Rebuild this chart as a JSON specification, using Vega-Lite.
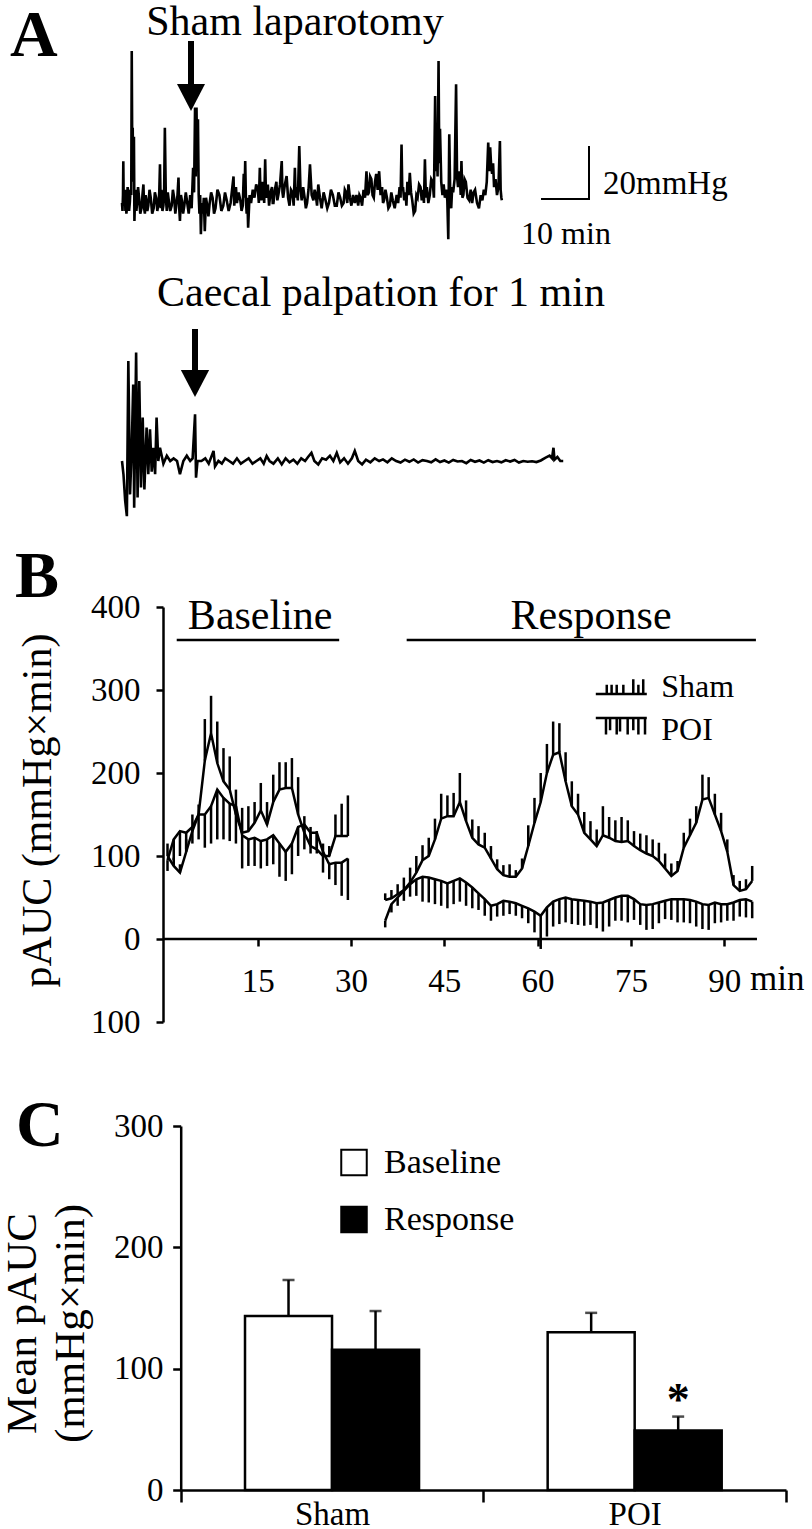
{
"$schema": "https://vega.github.io/schema/vega-lite/v6.json",
"padding": 0,
"autosize": {"type": "pad"},
"bounds": "flush",
"spacing": 104,
"background": "white",
"config": {
  "font": "Liberation Serif",
  "view": {"stroke": null},
  "axis": {"domainColor": "black", "tickColor": "black", "labelColor": "black", "titleColor": "black", "domainWidth": 2.5, "tickWidth": 2.5, "grid": false, "labelFont": "Liberation Serif", "titleFont": "Liberation Serif", "titleFontWeight": "normal"},
  "legend": {"labelFont": "Liberation Serif", "labelColor": "black"}
},
"datasets": {
  "top": [
    {"t":0,"p":0},{"t":0.1,"p":-3},{"t":0.2,"p":3},{"t":0.27,"p":15.8},{"t":0.35,"p":-1},{"t":0.45,"p":4},{"t":0.6,"p":5},{"t":0.7,"p":-3},{"t":0.8,"p":2},{"t":0.9,"p":-4},{"t":1.0,"p":-2},{"t":1.15,"p":6},{"t":1.3,"p":4},{"t":1.45,"p":-3},{"t":1.6,"p":0},{"t":1.75,"p":5},{"t":1.9,"p":3},{"t":2.0,"p":57.4},{"t":2.1,"p":20},{"t":2.2,"p":28.4},{"t":2.3,"p":8},{"t":2.45,"p":25},{"t":2.55,"p":-6.8},{"t":2.7,"p":4},{"t":2.8,"p":5},{"t":2.95,"p":-3},{"t":3.1,"p":0},{"t":3.3,"p":6},{"t":3.5,"p":2},{"t":3.75,"p":-4},{"t":4.0,"p":-2},{"t":4.2,"p":3},{"t":4.4,"p":7},{"t":4.55,"p":-2},{"t":4.7,"p":-4},{"t":4.85,"p":3},{"t":5.0,"p":1},{"t":5.2,"p":-3},{"t":5.4,"p":-1},{"t":5.65,"p":5},{"t":5.9,"p":2},{"t":6.2,"p":-4},{"t":6.5,"p":-2},{"t":6.75,"p":4},{"t":7.0,"p":2},{"t":7.25,"p":-3},{"t":7.5,"p":0},{"t":7.65,"p":4},{"t":7.8,"p":14.6},{"t":7.95,"p":-2},{"t":8.1,"p":5},{"t":8.3,"p":-3},{"t":8.5,"p":-1},{"t":8.65,"p":4},{"t":8.8,"p":28.4},{"t":9.0,"p":2},{"t":9.2,"p":-3},{"t":9.4,"p":4},{"t":9.6,"p":1},{"t":9.9,"p":-3},{"t":10.2,"p":-1},{"t":10.45,"p":5},{"t":10.7,"p":2},{"t":10.95,"p":-4},{"t":11.2,"p":0},{"t":11.4,"p":3},{"t":11.6,"p":9.6},{"t":11.75,"p":-2},{"t":11.9,"p":-6.8},{"t":12.1,"p":3},{"t":12.3,"p":1},{"t":12.55,"p":-4},{"t":12.8,"p":-1},{"t":13.1,"p":4},{"t":13.4,"p":0},{"t":13.7,"p":-4},{"t":14.0,"p":3},{"t":14.3,"p":-2},{"t":14.6,"p":13.3},{"t":14.8,"p":4},{"t":15.0,"p":36},{"t":15.15,"p":10},{"t":15.3,"p":36},{"t":15.45,"p":12},{"t":15.6,"p":31.6},{"t":15.75,"p":3},{"t":15.9,"p":-4},{"t":16.05,"p":3},{"t":16.2,"p":-11.8},{"t":16.4,"p":0},{"t":16.6,"p":-4},{"t":16.8,"p":2},{"t":17.0,"p":-10.6},{"t":17.25,"p":2},{"t":17.5,"p":-1},{"t":17.75,"p":-5},{"t":18.0,"p":0},{"t":18.3,"p":4},{"t":18.6,"p":2},{"t":18.9,"p":-4},{"t":19.2,"p":-2},{"t":19.6,"p":5},{"t":20.0,"p":3},{"t":20.4,"p":-3},{"t":20.8,"p":-1},{"t":21.15,"p":4},{"t":21.5,"p":1},{"t":21.9,"p":-3},{"t":22.3,"p":0},{"t":22.6,"p":5},{"t":22.9,"p":10},{"t":23.05,"p":-1},{"t":23.2,"p":3},{"t":23.4,"p":6},{"t":23.6,"p":0},{"t":23.95,"p":4},{"t":24.3,"p":1},{"t":24.55,"p":-3},{"t":24.8,"p":-1},{"t":25.0,"p":11},{"t":25.15,"p":2},{"t":25.3,"p":15.8},{"t":25.45,"p":1},{"t":25.6,"p":-4},{"t":25.75,"p":2},{"t":25.9,"p":-9.3},{"t":26.2,"p":3},{"t":26.5,"p":0},{"t":26.85,"p":5},{"t":27.2,"p":2},{"t":27.55,"p":7},{"t":27.9,"p":5},{"t":28.1,"p":0},{"t":28.3,"p":13.3},{"t":28.45,"p":3},{"t":28.6,"p":1},{"t":28.8,"p":8},{"t":29.0,"p":5},{"t":29.2,"p":0},{"t":29.4,"p":16.5},{"t":29.55,"p":4},{"t":29.7,"p":2},{"t":29.95,"p":7},{"t":30.2,"p":-1},{"t":30.5,"p":4},{"t":30.8,"p":6},{"t":30.95,"p":0},{"t":31.1,"p":0},{"t":31.4,"p":5},{"t":31.7,"p":8},{"t":31.9,"p":1},{"t":32.1,"p":3},{"t":32.45,"p":7},{"t":32.8,"p":15.8},{"t":32.95,"p":4},{"t":33.1,"p":2},{"t":33.45,"p":7},{"t":33.8,"p":10.2},{"t":34.1,"p":2},{"t":34.4,"p":-1},{"t":34.7,"p":5},{"t":35.0,"p":4},{"t":35.25,"p":-1},{"t":35.5,"p":13.3},{"t":35.65,"p":2},{"t":35.8,"p":6},{"t":36.1,"p":1},{"t":36.4,"p":21.5},{"t":36.65,"p":5},{"t":36.9,"p":1},{"t":37.2,"p":6},{"t":37.5,"p":2},{"t":37.75,"p":-2},{"t":38.0,"p":0},{"t":38.3,"p":5},{"t":38.6,"p":14.6},{"t":38.95,"p":3},{"t":39.3,"p":1},{"t":39.55,"p":5},{"t":39.8,"p":3},{"t":40.05,"p":-1},{"t":40.3,"p":7},{"t":40.65,"p":2},{"t":41.0,"p":-2},{"t":41.4,"p":4},{"t":41.8,"p":1},{"t":42.15,"p":-2},{"t":42.5,"p":0},{"t":42.9,"p":5},{"t":43.3,"p":3},{"t":43.7,"p":-1},{"t":44.1,"p":-1},{"t":44.45,"p":4},{"t":44.8,"p":2},{"t":45.15,"p":-1},{"t":45.5,"p":0},{"t":45.75,"p":5},{"t":46.0,"p":4},{"t":46.25,"p":0},{"t":46.5,"p":7},{"t":46.8,"p":2},{"t":47.1,"p":-1},{"t":47.45,"p":3},{"t":47.8,"p":0},{"t":48.15,"p":3},{"t":48.5,"p":-1},{"t":48.75,"p":3},{"t":49.0,"p":2},{"t":49.3,"p":-1},{"t":49.6,"p":5},{"t":49.9,"p":2},{"t":50.2,"p":12},{"t":50.45,"p":3},{"t":50.7,"p":4},{"t":50.95,"p":10},{"t":51.2,"p":9},{"t":51.45,"p":3},{"t":51.7,"p":2},{"t":51.95,"p":8},{"t":52.2,"p":11},{"t":52.5,"p":5},{"t":52.8,"p":12},{"t":53.1,"p":3},{"t":53.4,"p":6},{"t":53.6,"p":0},{"t":53.8,"p":1},{"t":54.1,"p":5},{"t":54.4,"p":2},{"t":54.7,"p":-2},{"t":55.0,"p":-1},{"t":55.3,"p":4},{"t":55.6,"p":1},{"t":56.0,"p":-2},{"t":56.4,"p":3},{"t":56.7,"p":0},{"t":57.0,"p":6},{"t":57.2,"p":2},{"t":57.4,"p":22.1},{"t":57.55,"p":5},{"t":57.7,"p":6},{"t":57.95,"p":1},{"t":58.2,"p":4},{"t":58.4,"p":-1},{"t":58.6,"p":8},{"t":58.85,"p":3},{"t":59.1,"p":11.4},{"t":59.35,"p":4},{"t":59.6,"p":1},{"t":59.9,"p":-4},{"t":60.2,"p":-3},{"t":60.45,"p":3},{"t":60.7,"p":2},{"t":61.0,"p":7},{"t":61.3,"p":6},{"t":61.55,"p":1},{"t":61.8,"p":5},{"t":62.0,"p":0},{"t":62.2,"p":16.5},{"t":62.4,"p":2},{"t":62.6,"p":6},{"t":62.9,"p":0},{"t":63.2,"p":3},{"t":63.5,"p":9},{"t":63.8,"p":8},{"t":64.05,"p":2},{"t":64.3,"p":40.4},{"t":64.45,"p":12},{"t":64.6,"p":26},{"t":64.8,"p":10},{"t":65.0,"p":53.6},{"t":65.15,"p":15},{"t":65.3,"p":28},{"t":65.55,"p":8},{"t":65.8,"p":3},{"t":66.05,"p":7},{"t":66.3,"p":2},{"t":66.55,"p":5},{"t":66.8,"p":1},{"t":67.0,"p":-13.7},{"t":67.2,"p":25.9},{"t":67.4,"p":3},{"t":67.6,"p":-2},{"t":67.8,"p":6},{"t":68.0,"p":4},{"t":68.3,"p":9},{"t":68.6,"p":44.8},{"t":68.8,"p":10},{"t":69.0,"p":6},{"t":69.2,"p":12},{"t":69.4,"p":9},{"t":69.55,"p":3},{"t":69.7,"p":15.8},{"t":69.9,"p":2},{"t":70.1,"p":3},{"t":70.35,"p":9},{"t":70.6,"p":8},{"t":70.95,"p":2},{"t":71.3,"p":1},{"t":71.6,"p":5},{"t":71.9,"p":0},{"t":72.2,"p":4},{"t":72.5,"p":5},{"t":72.9,"p":0},{"t":73.3,"p":-2},{"t":73.65,"p":3},{"t":74.0,"p":1},{"t":74.3,"p":5},{"t":74.6,"p":3},{"t":74.9,"p":8},{"t":75.2,"p":22.8},{"t":75.4,"p":12},{"t":75.6,"p":21},{"t":75.8,"p":14},{"t":76.0,"p":11},{"t":76.2,"p":15},{"t":76.4,"p":6},{"t":76.7,"p":9},{"t":77.0,"p":3},{"t":77.3,"p":6},{"t":77.6,"p":23.4},{"t":77.75,"p":5},{"t":77.9,"p":2},{"t":78.0,"p":1}
  ],
  "bot": [
    {"t":0,"p":0},{"t":0.3,"p":-5},{"t":0.65,"p":-15},{"t":1.0,"p":-20.8},{"t":1.3,"p":37.7},{"t":1.65,"p":-12.6},{"t":2.0,"p":5},{"t":2.3,"p":28.9},{"t":2.5,"p":-17.6},{"t":2.9,"p":40.9},{"t":3.2,"p":-13.8},{"t":3.55,"p":30.2},{"t":3.9,"p":-10},{"t":4.25,"p":16.4},{"t":4.6,"p":-10.7},{"t":5.05,"p":12.6},{"t":5.4,"p":-5},{"t":5.75,"p":12},{"t":6.1,"p":-4},{"t":6.45,"p":5},{"t":6.8,"p":-5},{"t":7.1,"p":16.4},{"t":7.45,"p":0},{"t":7.8,"p":5},{"t":8.5,"p":-1},{"t":9.2,"p":2},{"t":9.9,"p":0},{"t":10.6,"p":1},{"t":11.3,"p":0},{"t":11.9,"p":-5},{"t":12.6,"p":0},{"t":13.3,"p":2},{"t":14.0,"p":0},{"t":14.5,"p":1},{"t":15.0,"p":17.6},{"t":15.2,"p":-6.3},{"t":15.5,"p":0},{"t":16.3,"p":0},{"t":17.1,"p":1},{"t":17.8,"p":-1},{"t":18.8,"p":3.8},{"t":19.1,"p":-2},{"t":19.8,"p":0},{"t":20.5,"p":-1},{"t":21.2,"p":1},{"t":22.0,"p":0},{"t":22.8,"p":-1},{"t":23.6,"p":1},{"t":24.4,"p":-1},{"t":25.2,"p":0},{"t":26.0,"p":1},{"t":26.8,"p":-1},{"t":27.6,"p":0},{"t":28.4,"p":1},{"t":29.1,"p":-1},{"t":29.7,"p":1.9},{"t":30.3,"p":0},{"t":31.1,"p":-1},{"t":32.0,"p":1},{"t":32.8,"p":-1.3},{"t":33.6,"p":1},{"t":34.4,"p":-0.5},{"t":35.2,"p":0.5},{"t":36.0,"p":-1},{"t":36.8,"p":1},{"t":37.6,"p":0},{"t":38.2,"p":1.5},{"t":38.9,"p":3.1},{"t":39.5,"p":0},{"t":40.3,"p":-1.3},{"t":41.1,"p":1},{"t":41.9,"p":0.5},{"t":42.7,"p":2},{"t":43.4,"p":0},{"t":44.1,"p":3.1},{"t":44.8,"p":-0.5},{"t":45.6,"p":1},{"t":46.4,"p":-1},{"t":47.2,"p":1},{"t":47.8,"p":3.8},{"t":48.5,"p":0},{"t":49.3,"p":-1.3},{"t":50.1,"p":0.5},{"t":51.0,"p":-0.5},{"t":51.9,"p":1},{"t":52.8,"p":0},{"t":53.6,"p":0.6},{"t":54.5,"p":-0.5},{"t":55.4,"p":1},{"t":56.3,"p":0},{"t":57.2,"p":-0.6},{"t":58.1,"p":0.5},{"t":59.0,"p":-0.3},{"t":59.9,"p":0.6},{"t":60.8,"p":-0.6},{"t":61.7,"p":0.3},{"t":62.6,"p":0},{"t":63.5,"p":-0.5},{"t":64.4,"p":0.6},{"t":65.3,"p":-0.4},{"t":66.2,"p":0.2},{"t":67.1,"p":-0.6},{"t":68.0,"p":0.4},{"t":68.9,"p":-0.2},{"t":69.8,"p":0},{"t":70.7,"p":-0.8},{"t":71.6,"p":0.4},{"t":72.5,"p":-0.3},{"t":73.4,"p":0.2},{"t":74.3,"p":-0.6},{"t":75.2,"p":0.3},{"t":76.1,"p":-0.4},{"t":77.0,"p":0},{"t":77.9,"p":-0.5},{"t":78.8,"p":0.3},{"t":79.7,"p":-0.2},{"t":80.6,"p":0.4},{"t":81.5,"p":-0.6},{"t":82.4,"p":0},{"t":83.3,"p":-0.3},{"t":84.2,"p":-0.1},{"t":85.1,"p":-0.4},{"t":86.0,"p":0.2},{"t":86.9,"p":1.2},{"t":87.8,"p":2},{"t":88.3,"p":1},{"t":88.6,"p":5},{"t":88.8,"p":0.5},{"t":89.4,"p":1.5},{"t":90.0,"p":0},{"t":90.6,"p":0}
  ],
  "b": [
    {"g":"Sham","ph":"base","t":0.5,"v":100,"ev":115},{"g":"Sham","ph":"base","t":1.5,"v":88,"ev":98},{"g":"Sham","ph":"base","t":2.5,"v":80,"ev":90},{"g":"Sham","ph":"base","t":3.5,"v":105,"ev":120},{"g":"Sham","ph":"base","t":4.5,"v":130,"ev":150},{"g":"Sham","ph":"base","t":5.5,"v":150,"ev":162},{"g":"Sham","ph":"base","t":6.5,"v":215,"ev":265},{"g":"Sham","ph":"base","t":7.5,"v":248,"ev":293},{"g":"Sham","ph":"base","t":8.5,"v":212,"ev":262},{"g":"Sham","ph":"base","t":9.5,"v":190,"ev":230},{"g":"Sham","ph":"base","t":10.5,"v":180,"ev":220},{"g":"Sham","ph":"base","t":11.5,"v":150,"ev":180},{"g":"Sham","ph":"base","t":12.5,"v":128,"ev":158},{"g":"Sham","ph":"base","t":13.5,"v":130,"ev":160},{"g":"Sham","ph":"base","t":14.5,"v":140,"ev":165},{"g":"Sham","ph":"base","t":15.5,"v":155,"ev":188},{"g":"Sham","ph":"base","t":16.5,"v":138,"ev":165},{"g":"Sham","ph":"base","t":17.5,"v":165,"ev":198},{"g":"Sham","ph":"base","t":18.5,"v":180,"ev":213},{"g":"Sham","ph":"base","t":19.5,"v":182,"ev":213},{"g":"Sham","ph":"base","t":20.5,"v":182,"ev":218},{"g":"Sham","ph":"base","t":21.5,"v":150,"ev":195},{"g":"Sham","ph":"base","t":22.5,"v":128,"ev":148},{"g":"Sham","ph":"base","t":23.5,"v":112,"ev":135},{"g":"Sham","ph":"base","t":24.5,"v":108,"ev":130},{"g":"Sham","ph":"base","t":25.5,"v":100,"ev":115},{"g":"Sham","ph":"base","t":26.5,"v":100,"ev":112},{"g":"Sham","ph":"base","t":27.5,"v":124,"ev":150},{"g":"Sham","ph":"base","t":28.5,"v":124,"ev":163},{"g":"Sham","ph":"base","t":29.5,"v":124,"ev":173},
    {"g":"POI","ph":"base","t":0.5,"v":95,"ev":82},{"g":"POI","ph":"base","t":1.5,"v":120,"ev":95},{"g":"POI","ph":"base","t":2.5,"v":130,"ev":100},{"g":"POI","ph":"base","t":3.5,"v":128,"ev":108},{"g":"POI","ph":"base","t":4.5,"v":135,"ev":115},{"g":"POI","ph":"base","t":5.5,"v":150,"ev":120},{"g":"POI","ph":"base","t":6.5,"v":150,"ev":110},{"g":"POI","ph":"base","t":7.5,"v":160,"ev":115},{"g":"POI","ph":"base","t":8.5,"v":180,"ev":120},{"g":"POI","ph":"base","t":9.5,"v":170,"ev":120},{"g":"POI","ph":"base","t":10.5,"v":163,"ev":118},{"g":"POI","ph":"base","t":11.5,"v":160,"ev":115},{"g":"POI","ph":"base","t":12.5,"v":125,"ev":85},{"g":"POI","ph":"base","t":13.5,"v":120,"ev":88},{"g":"POI","ph":"base","t":14.5,"v":122,"ev":88},{"g":"POI","ph":"base","t":15.5,"v":118,"ev":85},{"g":"POI","ph":"base","t":16.5,"v":120,"ev":88},{"g":"POI","ph":"base","t":17.5,"v":125,"ev":90},{"g":"POI","ph":"base","t":18.5,"v":115,"ev":75},{"g":"POI","ph":"base","t":19.5,"v":105,"ev":70},{"g":"POI","ph":"base","t":20.5,"v":115,"ev":78},{"g":"POI","ph":"base","t":21.5,"v":135,"ev":100},{"g":"POI","ph":"base","t":22.5,"v":138,"ev":108},{"g":"POI","ph":"base","t":23.5,"v":128,"ev":103},{"g":"POI","ph":"base","t":24.5,"v":128,"ev":103},{"g":"POI","ph":"base","t":25.5,"v":105,"ev":80},{"g":"POI","ph":"base","t":26.5,"v":90,"ev":72},{"g":"POI","ph":"base","t":27.5,"v":92,"ev":65},{"g":"POI","ph":"base","t":28.5,"v":92,"ev":52},{"g":"POI","ph":"base","t":29.5,"v":97,"ev":47},
    {"g":"Sham","ph":"resp","t":35.5,"v":47,"ev":55},{"g":"Sham","ph":"resp","t":36.5,"v":49,"ev":59},{"g":"Sham","ph":"resp","t":37.5,"v":54,"ev":66},{"g":"Sham","ph":"resp","t":38.5,"v":59,"ev":74},{"g":"Sham","ph":"resp","t":39.5,"v":68,"ev":86},{"g":"Sham","ph":"resp","t":40.5,"v":80,"ev":100},{"g":"Sham","ph":"resp","t":41.5,"v":95,"ev":113},{"g":"Sham","ph":"resp","t":42.5,"v":100,"ev":122},{"g":"Sham","ph":"resp","t":43.5,"v":120,"ev":145},{"g":"Sham","ph":"resp","t":44.5,"v":145,"ev":175},{"g":"Sham","ph":"resp","t":45.5,"v":148,"ev":173},{"g":"Sham","ph":"resp","t":46.5,"v":148,"ev":176},{"g":"Sham","ph":"resp","t":47.5,"v":165,"ev":200},{"g":"Sham","ph":"resp","t":48.5,"v":142,"ev":167},{"g":"Sham","ph":"resp","t":49.5,"v":122,"ev":144},{"g":"Sham","ph":"resp","t":50.5,"v":114,"ev":136},{"g":"Sham","ph":"resp","t":51.5,"v":110,"ev":128},{"g":"Sham","ph":"resp","t":52.5,"v":97,"ev":112},{"g":"Sham","ph":"resp","t":53.5,"v":84,"ev":96},{"g":"Sham","ph":"resp","t":54.5,"v":77,"ev":89},{"g":"Sham","ph":"resp","t":55.5,"v":75,"ev":90},{"g":"Sham","ph":"resp","t":56.5,"v":75,"ev":83},{"g":"Sham","ph":"resp","t":57.5,"v":85,"ev":97},{"g":"Sham","ph":"resp","t":58.5,"v":112,"ev":137},{"g":"Sham","ph":"resp","t":59.5,"v":140,"ev":170},{"g":"Sham","ph":"resp","t":60.5,"v":165,"ev":200},{"g":"Sham","ph":"resp","t":61.5,"v":200,"ev":235},{"g":"Sham","ph":"resp","t":62.5,"v":222,"ev":262},{"g":"Sham","ph":"resp","t":63.5,"v":225,"ev":260},{"g":"Sham","ph":"resp","t":64.5,"v":190,"ev":225},{"g":"Sham","ph":"resp","t":65.5,"v":160,"ev":190},{"g":"Sham","ph":"resp","t":66.5,"v":150,"ev":175},{"g":"Sham","ph":"resp","t":67.5,"v":128,"ev":153},{"g":"Sham","ph":"resp","t":68.5,"v":120,"ev":142},{"g":"Sham","ph":"resp","t":69.5,"v":112,"ev":132},{"g":"Sham","ph":"resp","t":70.5,"v":125,"ev":160},{"g":"Sham","ph":"resp","t":71.5,"v":122,"ev":147},{"g":"Sham","ph":"resp","t":72.5,"v":118,"ev":143},{"g":"Sham","ph":"resp","t":73.5,"v":117,"ev":147},{"g":"Sham","ph":"resp","t":74.5,"v":118,"ev":143},{"g":"Sham","ph":"resp","t":75.5,"v":112,"ev":130},{"g":"Sham","ph":"resp","t":76.5,"v":107,"ev":127},{"g":"Sham","ph":"resp","t":77.5,"v":103,"ev":125},{"g":"Sham","ph":"resp","t":78.5,"v":100,"ev":120},{"g":"Sham","ph":"resp","t":79.5,"v":94,"ev":116},{"g":"Sham","ph":"resp","t":80.5,"v":85,"ev":103},{"g":"Sham","ph":"resp","t":81.5,"v":76,"ev":91},{"g":"Sham","ph":"resp","t":82.5,"v":82,"ev":94},{"g":"Sham","ph":"resp","t":83.5,"v":110,"ev":128},{"g":"Sham","ph":"resp","t":84.5,"v":125,"ev":145},{"g":"Sham","ph":"resp","t":85.5,"v":140,"ev":160},{"g":"Sham","ph":"resp","t":86.5,"v":168,"ev":198},{"g":"Sham","ph":"resp","t":87.5,"v":170,"ev":195},{"g":"Sham","ph":"resp","t":88.5,"v":150,"ev":175},{"g":"Sham","ph":"resp","t":89.5,"v":130,"ev":152},{"g":"Sham","ph":"resp","t":90.5,"v":105,"ev":120},{"g":"Sham","ph":"resp","t":91.5,"v":65,"ev":77},{"g":"Sham","ph":"resp","t":92.5,"v":58,"ev":70},{"g":"Sham","ph":"resp","t":93.5,"v":60,"ev":72},{"g":"Sham","ph":"resp","t":94.5,"v":70,"ev":88},
    {"g":"POI","ph":"resp","t":35.5,"v":22,"ev":14},{"g":"POI","ph":"resp","t":36.5,"v":42,"ev":32},{"g":"POI","ph":"resp","t":37.5,"v":50,"ev":40},{"g":"POI","ph":"resp","t":38.5,"v":58,"ev":46},{"g":"POI","ph":"resp","t":39.5,"v":66,"ev":51},{"g":"POI","ph":"resp","t":40.5,"v":72,"ev":52},{"g":"POI","ph":"resp","t":41.5,"v":75,"ev":45},{"g":"POI","ph":"resp","t":42.5,"v":74,"ev":44},{"g":"POI","ph":"resp","t":43.5,"v":72,"ev":42},{"g":"POI","ph":"resp","t":44.5,"v":70,"ev":40},{"g":"POI","ph":"resp","t":45.5,"v":67,"ev":37},{"g":"POI","ph":"resp","t":46.5,"v":70,"ev":42},{"g":"POI","ph":"resp","t":47.5,"v":73,"ev":45},{"g":"POI","ph":"resp","t":48.5,"v":68,"ev":40},{"g":"POI","ph":"resp","t":49.5,"v":62,"ev":37},{"g":"POI","ph":"resp","t":50.5,"v":55,"ev":35},{"g":"POI","ph":"resp","t":51.5,"v":48,"ev":28},{"g":"POI","ph":"resp","t":52.5,"v":40,"ev":22},{"g":"POI","ph":"resp","t":53.5,"v":42,"ev":27},{"g":"POI","ph":"resp","t":54.5,"v":46,"ev":28},{"g":"POI","ph":"resp","t":55.5,"v":45,"ev":30},{"g":"POI","ph":"resp","t":56.5,"v":43,"ev":28},{"g":"POI","ph":"resp","t":57.5,"v":40,"ev":25},{"g":"POI","ph":"resp","t":58.5,"v":37,"ev":19},{"g":"POI","ph":"resp","t":59.5,"v":33,"ev":8},{"g":"POI","ph":"resp","t":60.5,"v":28,"ev":-12},{"g":"POI","ph":"resp","t":61.5,"v":38,"ev":3},{"g":"POI","ph":"resp","t":62.5,"v":45,"ev":15},{"g":"POI","ph":"resp","t":63.5,"v":48,"ev":18},{"g":"POI","ph":"resp","t":64.5,"v":50,"ev":20},{"g":"POI","ph":"resp","t":65.5,"v":48,"ev":18},{"g":"POI","ph":"resp","t":66.5,"v":47,"ev":17},{"g":"POI","ph":"resp","t":67.5,"v":46,"ev":16},{"g":"POI","ph":"resp","t":68.5,"v":45,"ev":17},{"g":"POI","ph":"resp","t":69.5,"v":43,"ev":13},{"g":"POI","ph":"resp","t":70.5,"v":44,"ev":9},{"g":"POI","ph":"resp","t":71.5,"v":47,"ev":15},{"g":"POI","ph":"resp","t":72.5,"v":50,"ev":22},{"g":"POI","ph":"resp","t":73.5,"v":52,"ev":22},{"g":"POI","ph":"resp","t":74.5,"v":52,"ev":20},{"g":"POI","ph":"resp","t":75.5,"v":48,"ev":23},{"g":"POI","ph":"resp","t":76.5,"v":42,"ev":17},{"g":"POI","ph":"resp","t":77.5,"v":41,"ev":11},{"g":"POI","ph":"resp","t":78.5,"v":42,"ev":12},{"g":"POI","ph":"resp","t":79.5,"v":44,"ev":19},{"g":"POI","ph":"resp","t":80.5,"v":46,"ev":24},{"g":"POI","ph":"resp","t":81.5,"v":48,"ev":23},{"g":"POI","ph":"resp","t":82.5,"v":48,"ev":20},{"g":"POI","ph":"resp","t":83.5,"v":48,"ev":20},{"g":"POI","ph":"resp","t":84.5,"v":47,"ev":19},{"g":"POI","ph":"resp","t":85.5,"v":45,"ev":15},{"g":"POI","ph":"resp","t":86.5,"v":42,"ev":12},{"g":"POI","ph":"resp","t":87.5,"v":41,"ev":11},{"g":"POI","ph":"resp","t":88.5,"v":44,"ev":19},{"g":"POI","ph":"resp","t":89.5,"v":42,"ev":20},{"g":"POI","ph":"resp","t":90.5,"v":42,"ev":22},{"g":"POI","ph":"resp","t":91.5,"v":44,"ev":22},{"g":"POI","ph":"resp","t":92.5,"v":47,"ev":27},{"g":"POI","ph":"resp","t":93.5,"v":48,"ev":26},{"g":"POI","ph":"resp","t":94.5,"v":45,"ev":25}
  ],
  "c": [
    {"g":"Sham","ph":"Baseline","m":143.5,"ev":173},
    {"g":"Sham","ph":"Response","m":115.5,"ev":147.5},
    {"g":"POI","ph":"Baseline","m":130,"ev":146},
    {"g":"POI","ph":"Response","m":49,"ev":60.5}
  ]
},
"vconcat": [
  {
    "width": 649, "height": 502,
    "layer": [
      {"layer": [
        {"data": {"name": "top"}, "mark": {"type": "line", "color": "black", "strokeWidth": 2.6},
         "encoding": {"x": {"field": "t", "type": "quantitative", "scale": {"domain": [8.41889, 141.68377], "nice": false, "zero": false}, "axis": null},
                      "y": {"field": "p", "type": "quantitative", "scale": {"domain": [-113.204, 76.23], "nice": false, "zero": false}, "axis": null}}},
        {"data": {"values": [{}]}, "mark": {"type": "rule", "color": "black", "strokeWidth": 6},
         "encoding": {"x": {"datum": 14.17, "type": "quantitative"}, "y": {"datum": 61.13, "type": "quantitative"}, "y2": {"datum": 43.0}}},
        {"data": {"values": [{}]}, "mark": {"type": "point", "shape": "M-1,-0.96L1,-0.96L0,0.96Z", "size": 784, "filled": true, "color": "black", "opacity": 1},
         "encoding": {"x": {"datum": 14.17, "type": "quantitative"}, "y": {"datum": 39.81, "type": "quantitative"}}},
        {"data": {"values": [{}]}, "mark": {"type": "text", "text": "Sham laparotomy", "fontSize": 42, "align": "center", "baseline": "alphabetic", "color": "black"},
         "encoding": {"x": {"datum": 35.52, "type": "quantitative"}, "y": {"datum": 63.4, "type": "quantitative"}}},
        {"data": {"values": [{}]}, "mark": {"type": "text", "text": "A", "fontSize": 66, "fontWeight": "bold", "align": "left", "baseline": "alphabetic", "color": "black"},
         "encoding": {"x": {"datum": -23.0, "type": "quantitative"}, "y": {"datum": 55.47, "type": "quantitative"}}},
        {"data": {"values": [{}]}, "mark": {"type": "rule", "color": "black", "strokeWidth": 2},
         "encoding": {"x": {"datum": 95.89, "type": "quantitative"}, "y": {"datum": 1.51, "type": "quantitative"}, "y2": {"datum": 21.51}}},
        {"data": {"values": [{}]}, "mark": {"type": "rule", "color": "black", "strokeWidth": 2},
         "encoding": {"x": {"datum": 86.04, "type": "quantitative"}, "x2": {"datum": 96.1}, "y": {"datum": 1.51, "type": "quantitative"}}},
        {"data": {"values": [{}]}, "mark": {"type": "text", "text": "20mmHg", "fontSize": 33, "align": "left", "baseline": "alphabetic", "color": "black"},
         "encoding": {"x": {"datum": 98.77, "type": "quantitative"}, "y": {"datum": 3.4, "type": "quantitative"}}},
        {"data": {"values": [{}]}, "mark": {"type": "text", "text": "10 min", "fontSize": 32, "align": "center", "baseline": "alphabetic", "color": "black"},
         "encoding": {"x": {"datum": 91.17, "type": "quantitative"}, "y": {"datum": -15.47, "type": "quantitative"}}},
        {"data": {"values": [{}]}, "mark": {"type": "rule", "color": "white", "strokeOpacity": 0, "strokeWidth": 1},
         "encoding": {"x": {"datum": -25.05, "type": "quantitative"}, "y": {"datum": 76.23, "type": "quantitative"}, "y2": {"datum": 76.0}}}
      ]},
      {"layer": [
        {"data": {"name": "bot"}, "mark": {"type": "line", "color": "black", "strokeWidth": 2.6},
         "encoding": {"x": {"field": "t", "type": "quantitative", "scale": {"domain": [8.41889, 141.68377], "nice": false, "zero": false}, "axis": null},
                      "y": {"field": "p", "type": "quantitative", "scale": {"domain": [-15.849, 173.585], "nice": false, "zero": false}, "axis": null}}},
        {"data": {"values": [{}]}, "mark": {"type": "rule", "color": "black", "strokeWidth": 6},
         "encoding": {"x": {"datum": 14.99, "type": "quantitative"}, "y": {"datum": 49.81, "type": "quantitative"}, "y2": {"datum": 31.7}}},
        {"data": {"values": [{}]}, "mark": {"type": "point", "shape": "M-1,-0.96L1,-0.96L0,0.96Z", "size": 800, "filled": true, "color": "black", "opacity": 1},
         "encoding": {"x": {"datum": 14.99, "type": "quantitative"}, "y": {"datum": 29.25, "type": "quantitative"}}},
        {"data": {"values": [{}]}, "mark": {"type": "text", "text": "Caecal palpation for 1 min", "fontSize": 42, "align": "center", "baseline": "alphabetic", "color": "black"},
         "encoding": {"x": {"datum": 53.18, "type": "quantitative"}, "y": {"datum": 58.49, "type": "quantitative"}}}
      ]}
    ],
    "resolve": {"scale": {"y": "independent"}}
  },
  {
    "width": 649, "height": 415,
    "data": {"name": "b"},
    "layer": [
      {"mark": {"type": "line", "color": "black", "strokeWidth": 2.5},
       "encoding": {
         "x": {"field": "t", "type": "quantitative", "scale": {"domain": [-0.225, 104.116], "nice": false, "zero": false},
               "axis": {"values": [15, 30, 45, 60, 75, 90], "domain": false, "offset": -83, "tickSize": 7, "labelPadding": 19, "labelFontSize": 33, "title": null, "labelFlush": false, "labelOverlap": false}},
         "y": {"field": "v", "type": "quantitative", "scale": {"domain": [-100, 400], "nice": false, "zero": false},
               "axis": {"values": [-100, 0, 100, 200, 300, 400], "labelExpr": "'' + abs(datum.value)", "tickSize": 7, "labelPadding": 16, "labelFontSize": 33, "labelOverlap": false,
                        "title": "pAUC (mmHg×min)", "titleFontSize": 42, "titleAngle": 270, "titleBaseline": "alphabetic", "titleAlign": "center", "titleX": -113, "titleY": 203}},
         "detail": [{"field": "g"}, {"field": "ph"}]
       }},
      {"mark": {"type": "rule", "color": "black", "strokeWidth": 2.5},
       "encoding": {"x": {"field": "t", "type": "quantitative"}, "y": {"field": "v", "type": "quantitative"}, "y2": {"field": "ev"}}},
      {"mark": {"type": "point", "filled": false, "stroke": "black", "strokeWidth": 2.5, "opacity": 0},
       "encoding": {"x": {"field": "t", "type": "quantitative"}, "y": {"field": "v", "type": "quantitative"},
         "shape": {"field": "g", "type": "nominal",
           "scale": {"domain": ["Sham", "POI"], "range": ["M-1,0.27H1M-0.57,0.27V-0.1M-0.38,0.27V-0.1M-0.18,0.27V-0.1M0.08,0.27V-0.1M0.47,0.27V-0.31M0.67,0.27V-0.1M0.86,0.27V-0.31", "M-1,-0.48H1M-0.6,-0.48V0.17M-0.44,-0.48V0M-0.18,-0.48V0.17M-0.05,-0.48V0.05M0.25,-0.48V0.17M0.47,-0.48V0M0.67,-0.48V0.17M0.93,-0.48V0.17"]},
           "legend": {"title": null, "orient": "none", "legendX": 431.3, "legendY": 659.2, "labelFontSize": 32, "symbolSize": 2601, "symbolStrokeColor": "black", "symbolStrokeWidth": 2.5, "symbolFillColor": "transparent", "symbolOpacity": 1, "rowPadding": 0, "labelOffset": 13, "padding": 0}}}},
      {"data": {"values": [{}]}, "mark": {"type": "rule", "color": "black", "strokeWidth": 2.5},
       "encoding": {"x": {"datum": -0.225, "type": "quantitative"}, "x2": {"datum": 95.27}, "y": {"datum": 0, "type": "quantitative"}}},
      {"data": {"values": [{}]}, "mark": {"type": "rule", "color": "black", "strokeWidth": 2.5},
       "encoding": {"x": {"datum": 1.98, "type": "quantitative"}, "x2": {"datum": 28.1}, "y": {"datum": 360.2, "type": "quantitative"}}},
      {"data": {"values": [{}]}, "mark": {"type": "rule", "color": "black", "strokeWidth": 2.5},
       "encoding": {"x": {"datum": 38.95, "type": "quantitative"}, "x2": {"datum": 95.1}, "y": {"datum": 360.2, "type": "quantitative"}}},
      {"data": {"values": [{}]}, "mark": {"type": "text", "text": "Baseline", "fontSize": 42, "align": "center", "baseline": "alphabetic", "color": "black"},
       "encoding": {"x": {"datum": 15.4, "type": "quantitative"}, "y": {"datum": 373.5, "type": "quantitative"}}},
      {"data": {"values": [{}]}, "mark": {"type": "text", "text": "Response", "fontSize": 42, "align": "center", "baseline": "alphabetic", "color": "black"},
       "encoding": {"x": {"datum": 68.6, "type": "quantitative"}, "y": {"datum": 373.5, "type": "quantitative"}}},
      {"data": {"values": [{}]}, "mark": {"type": "text", "text": "B", "fontSize": 66, "fontWeight": "bold", "align": "left", "baseline": "alphabetic", "color": "black"},
       "encoding": {"x": {"datum": -24.02, "type": "quantitative"}, "y": {"datum": 412, "type": "quantitative"}}},
      {"data": {"values": [{}]}, "mark": {"type": "text", "text": "min", "fontSize": 35, "align": "left", "baseline": "alphabetic", "color": "black"},
       "encoding": {"x": {"datum": 94.15, "type": "quantitative"}, "y": {"datum": -61.4, "type": "quantitative"}}}
    ]
  },
  {
    "width": 649, "height": 364,
    "data": {"name": "c"},
    "layer": [
      {"mark": {"type": "bar", "stroke": "black", "strokeWidth": 2.5},
       "encoding": {
         "x": {"field": "g", "type": "nominal", "sort": ["Sham", "POI"], "scale": {"domain": ["Sham", "POI"], "range": [17.7, 623.0], "paddingInner": 0, "paddingOuter": 0},
               "axis": {"title": null, "labelAngle": 0, "labelFontSize": 33, "tickSize": 12, "tickBand": "extent", "labelPadding": -4}},
         "xOffset": {"field": "ph", "type": "nominal", "scale": {"domain": ["Baseline", "Response"], "paddingInner": 0, "paddingOuter": 0.739}},
         "y": {"field": "m", "type": "quantitative", "scale": {"domain": [0, 300], "nice": false},
               "axis": {"values": [0, 100, 200, 300], "offset": -17.7, "tickSize": 8, "labelPadding": 9.7, "labelFontSize": 33,
                        "title": ["Mean pAUC", "(mmHg×min)"], "titleFontSize": 43, "titleLineHeight": 48, "titleAngle": 270, "titleBaseline": "alphabetic", "titleAlign": "center", "titleX": -145.7, "titleY": 197}},
         "fill": {"field": "ph", "type": "nominal", "scale": {"domain": ["Baseline", "Response"], "range": ["white", "black"]},
                  "legend": {"title": null, "orient": "none", "legendX": 174, "legendY": 1144.5, "labelFontSize": 34, "symbolType": "square", "symbolSize": 650, "symbolStrokeColor": "black", "symbolStrokeWidth": 2, "rowPadding": 23, "labelOffset": 13, "padding": 0}}
       }},
      {"mark": {"type": "rule", "color": "black", "strokeWidth": 2.5},
       "encoding": {"x": {"field": "g", "type": "nominal"}, "xOffset": {"field": "ph", "type": "nominal"}, "y": {"field": "m", "type": "quantitative"}, "y2": {"field": "ev"}}},
      {"mark": {"type": "tick", "color": "black", "thickness": 2.5, "size": 12, "orient": "horizontal"},
       "encoding": {"x": {"field": "g", "type": "nominal"}, "xOffset": {"field": "ph", "type": "nominal"}, "y": {"field": "ev", "type": "quantitative"}}},
      {"transform": [{"filter": "datum.g === 'POI' && datum.ph === 'Response'"}],
       "mark": {"type": "text", "text": "*", "fontSize": 46, "fontWeight": "bold", "baseline": "alphabetic", "align": "center", "color": "black"},
       "encoding": {"x": {"field": "g", "type": "nominal"}, "xOffset": {"field": "ph", "type": "nominal"}, "y": {"datum": 62, "type": "quantitative"}}},
      {"data": {"values": [{}]}, "mark": {"type": "text", "text": "C", "fontSize": 66, "fontWeight": "bold", "align": "left", "baseline": "alphabetic", "color": "black"},
       "encoding": {"x": {"datum": "Sham", "type": "nominal", "bandPosition": -0.544}, "y": {"datum": 283.5, "type": "quantitative"}}}
    ]
  }
]
}
